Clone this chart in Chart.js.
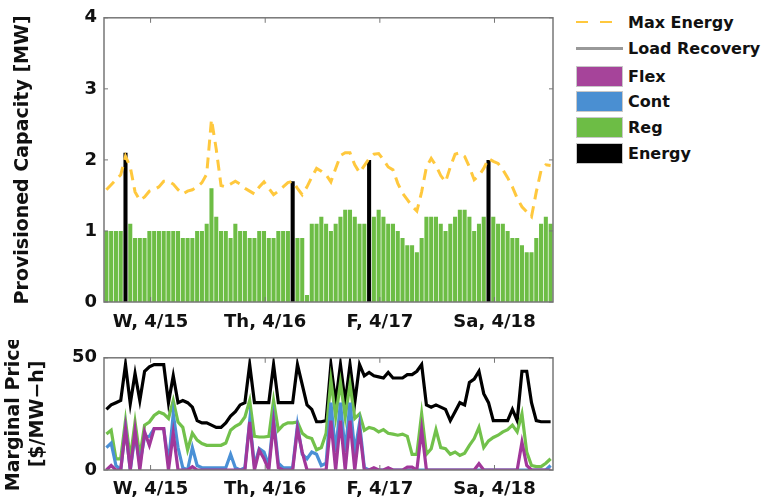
<!DOCTYPE html>
<html>
<head>
<meta charset="utf-8">
<script src="https://cdn.jsdelivr.net/npm/chart.js@4.4.1/dist/chart.umd.min.js"></script>
<style>
  body { margin: 0; background: #fff; }
  #wrap { position: relative; width: 761px; height: 504px; font-family: "DejaVu Sans", sans-serif; }
  #top { position: absolute; left: 0; top: 0; }
  #bot { position: absolute; left: 0; top: 340px; }
  .row { position: absolute; left: 576px; height: 22px; display: flex; align-items: center;
         font-weight: bold; font-size: 16px; color: #111; white-space: nowrap; }
  .sw { width: 47px; margin-right: 5px; box-sizing: border-box; }
  .box { height: 21px; border: 1px solid #c8c8c8; }
</style>
</head>
<body>
<div id="wrap">
  <canvas id="top" width="570" height="340"></canvas>
  <canvas id="bot" width="570" height="164"></canvas>

  <div class="row" style="top:11px"><span class="sw" style="height:2px;background:repeating-linear-gradient(to right,#ffc83d 0 12px,transparent 12px 24px)"></span>Max Energy</div>
  <div class="row" style="top:37px"><span class="sw" style="height:3px;background:#999"></span>Load Recovery</div>
  <div class="row" style="top:65px"><span class="sw box" style="background:#a6449a"></span>Flex</div>
  <div class="row" style="top:90px"><span class="sw box" style="background:#4a8fd2"></span>Cont</div>
  <div class="row" style="top:116px"><span class="sw box" style="background:#6dbd45"></span>Reg</div>
  <div class="row" style="top:142px"><span class="sw box" style="background:#000"></span>Energy</div>
</div>

<script>
// ── data: one value per hour, 94 hours ──
const dayTicks = [9.75, 33.75, 57.75, 81.75];
const dayLabels = ['W, 4/15', 'Th, 4/16', 'F, 4/17', 'Sa, 4/18'];

// provisioned capacity [MW]
const regMW = [
  1.0, 1.0, 1.0, 1.0, null, 1.1, 0.9, 0.9, 0.9, 1.0,
  1.0, 1.0, 1.0, 1.0, 1.0, 1.0, 0.9, 0.9, 0.9, 1.0,
  1.0, 1.1, 1.6, 1.2, 1.0, 1.0, 0.9, 1.1, 1.0, 1.0,
  0.9, 0.9, 1.0, 1.0, 0.9, 0.9, 1.0, 1.0, 1.0, null,
  0.9, 0.9, 0.1, 1.1, 1.1, 1.2, 1.1, 1.0, 1.1, 1.2,
  1.3, 1.3, 1.2, 1.1, 1.1, null, 1.2, 1.3, 1.2, 1.1,
  1.1, 1.0, 0.9, 0.8, 0.8, 0.7, 0.9, 1.2, 1.2, 1.2,
  1.1, 1.0, 1.1, 1.2, 1.3, 1.3, 1.2, 1.0, 1.1, 1.2,
  null, 1.2, 1.1, 1.1, 1.0, 0.9, 0.9, 0.8, 0.7, 0.7,
  0.9, 1.1, 1.2, 1.1
];
const energyHours = [4, 39, 55, 80];
const energyMW = [2.1, 1.7, 2.0, 2.0];
const maxEnergy = [
  1.58, 1.65, 1.72, 1.79, 2.05, 1.90, 1.55, 1.43, 1.48, 1.56,
  1.58, 1.62, 1.70, 1.70, 1.66, 1.58, 1.52, 1.56, 1.58, 1.62,
  1.68, 1.80, 2.57, 2.15, 1.64, 1.62, 1.66, 1.70, 1.66, 1.60,
  1.56, 1.52, 1.62, 1.69, 1.60, 1.51, 1.56, 1.62, 1.68, 1.70,
  1.60, 1.51, 1.62, 1.76, 1.88, 1.84, 1.79, 1.69, 1.88, 2.06,
  2.10, 2.10, 1.93, 1.82, 1.92, 2.02, 2.08, 2.09, 2.00, 1.90,
  1.86, 1.67, 1.53, 1.44, 1.35, 1.28, 1.55, 1.90, 2.02, 1.92,
  1.78, 1.69, 1.90, 2.08, 2.10, 2.05, 1.90, 1.72, 1.78, 1.88,
  2.02, 1.98, 1.95, 1.86, 1.75, 1.62, 1.46, 1.34, 1.27, 1.20,
  1.55, 1.85, 1.93, 1.92
];

// marginal price [$/MW-h]
const energyPrice = [
  27, 29, 30, 31, 47, 29.5, 43, 31, 44, 46,
  47, 47, 47, 30, 42, 30, 31, 30, 28, 22,
  21, 21, 20, 19, 19, 21, 24, 26, 29, 30,
  47, 30, 30, 30, 30, 47, 30, 30, 30, 30,
  47, 38, 29, 27, 21.5, 21.5, 22, 47, 30, 47,
  30, 47, 30, 47, 42, 43.5, 42, 41.5, 41, 43.5,
  41, 41, 41, 42.5, 42.5, 44, 47, 29, 28, 29,
  28, 27, 22, 26, 30, 29, 39, 40.5, 44, 34,
  30, 22, 22, 22, 22, 27, 22, 44, 44, 30,
  22, 21.5, 21.5, 21.5
];
const regPrice = [
  16, 17.7, 5, 5, 22, 5, 21.4, 6, 20, 21.4,
  24.3, 25.8, 25, 23, 31, 21.4, 19, 9, 16.4, 13.3,
  11.8, 11, 11, 11, 11, 12, 17.7, 19.5, 20.6, 23.6,
  31, 15, 14.7, 14.7, 15, 31, 17.7, 20, 21, 21,
  21.4, 16.4, 14.7, 14, 9, 10, 16.4, 40, 23.6, 39,
  23.6, 38.3, 23, 25, 17.7, 19, 18.4, 17, 18, 16.4,
  16, 15.5, 16, 15, 7, 7, 25, 7, 9.5, 18,
  10, 9.5, 7, 8, 6.5, 7.5, 11, 14, 19, 10,
  13, 14.5, 15.5, 17, 18, 20, 17, 25, 8, 2,
  1.5, 1.5, 3, 5
];
const contPrice = [
  10, 12, 2, 0, 18.6, 0, 15.5, 3, 14.7, 15,
  18.5, 18.5, 18.5, 3, 25, 10, 1, 0, 10, 2,
  1, 1, 1, 1, 1, 1, 7, 1, 0, 1,
  22, 2, 9.5, 8, 2, 23, 3, 1, 1, 1,
  20, 7, 5, 8, 7, 2, 3, 30, 8, 30,
  8, 30, 8, 21, 1, 0, 0, 0, 0, 0,
  0, 0, 0, 0, 0, 0, 0, 0, 0, 0,
  0, 0, 0, 0, 0, 0, 0, 0, 0, 0,
  0, 0, 0, 0, 0, 0, 0, 0, 0, 0,
  0, 0, 0, 2
];
const flexPrice = [
  0, 2, 0, 0, 18.4, 0, 17.7, 0, 17, 11,
  18.4, 18.4, 18.4, 0, 16.4, 0, 0, 0, 1.5, 0,
  0, 0, 0, 0, 0, 0, 0, 0, 0, 0,
  21.4, 0, 8.8, 5, 0, 21, 1, 0, 0, 0,
  18.4, 8, 0, 0, 0, 0, 0, 22, 0, 22,
  0, 22, 0, 18, 0, 0, 1, 0, 0, 1,
  0, 0, 0, 1.3, 1.3, 0, 18, 0, 0, 0,
  0, 0, 0, 0, 0, 0, 0, 0, 2.8, 0,
  0, 0, 0, 0, 0, 0, 0, 12.4, 2, 0,
  0, 0, 0, 0
];

// ── helpers ──
const pts = arr => arr.map((v, k) => ({ x: k + 0.5, y: v })).filter(p => p.y !== null);
const FONT = 'DejaVu Sans';
Chart.defaults.font.family = FONT;
Chart.defaults.font.weight = 'bold';
Chart.defaults.color = '#111';

// box around the plot with inward tick marks
const frame = {
  id: 'frame',
  afterDatasetsDraw(chart) {
    const { ctx, chartArea: a, scales: { x, y } } = chart;
    ctx.save();
    ctx.strokeStyle = '#777';
    ctx.lineWidth = 1.5;
    ctx.strokeRect(a.left, a.top, a.right - a.left, a.bottom - a.top);
    ctx.lineWidth = 1;
    ctx.beginPath();
    x.ticks.forEach(t => {
      const px = x.getPixelForValue(t.value);
      ctx.moveTo(px, a.top); ctx.lineTo(px, a.top + 5);
      ctx.moveTo(px, a.bottom); ctx.lineTo(px, a.bottom - 5);
    });
    y.ticks.forEach(t => {
      const py = y.getPixelForValue(t.value);
      ctx.moveTo(a.left, py); ctx.lineTo(a.left + 4, py);
      ctx.moveTo(a.right, py); ctx.lineTo(a.right - 4, py);
    });
    ctx.stroke();
    ctx.restore();
  }
};

function xAxis(labelPad, height) {
  return {
    type: 'linear', min: 0, max: 94, offset: false,
    grid: { display: false, drawTicks: false }, border: { display: false },
    afterBuildTicks: s => { s.ticks = dayTicks.map(v => ({ value: v })); },
    afterFit: s => { s.height = height; },
    ticks: { autoSkip: false, maxRotation: 0, padding: labelPad, font: { size: 18 },
             callback: (v, i) => dayLabels[i] }
  };
}

// ── top: provisioned capacity ──
new Chart(document.getElementById('top'), {
  type: 'bar',
  data: {
    datasets: [
      { type: 'line', label: 'Max Energy', data: pts(maxEnergy), borderColor: '#ffc83d',
        borderWidth: 3, borderDash: [11, 7], pointRadius: 0, tension: 0, fill: false },
      { label: 'Energy', data: energyHours.map((h, i) => ({ x: h + 0.5, y: energyMW[i] })),
        backgroundColor: '#000', grouped: false, barPercentage: 0.85, categoryPercentage: 1 },
      { label: 'Reg', data: pts(regMW), backgroundColor: '#6dbd45',
        grouped: false, barPercentage: 0.85, categoryPercentage: 1 }
    ]
  },
  options: {
    responsive: false, animation: false,
    layout: { padding: { left: 0, right: 17, top: 14, bottom: 0 } },
    plugins: { legend: { display: false }, tooltip: { enabled: false } },
    scales: {
      x: xAxis(10, 38),
      y: {
        min: 0, max: 4,
        grid: { display: false, drawTicks: false }, border: { display: false },
        afterFit: s => { s.width = 104; },
        ticks: { stepSize: 1, padding: 7, font: { size: 18 } },
        title: { display: true, text: 'Provisioned Capacity [MW]', font: { size: 19, weight: 'bold' },
                 padding: { top: 12, bottom: 0 } }
      }
    }
  },
  plugins: [frame]
});

// ── bottom: marginal price ──
const priceLine = (label, data, color) => ({
  label, data: pts(data), borderColor: color, borderWidth: 3.2,
  pointRadius: 0, tension: 0, fill: false
});

new Chart(document.getElementById('bot'), {
  type: 'line',
  data: {
    datasets: [
      priceLine('Flex', flexPrice, '#a1379a'),
      priceLine('Cont', contPrice, '#4a90d6'),
      priceLine('Reg', regPrice, '#72c14b'),
      priceLine('Energy', energyPrice, '#000')
    ]
  },
  options: {
    responsive: false, animation: false,
    layout: { padding: { left: 0, right: 17, top: 17, bottom: 0 } },
    plugins: { legend: { display: false }, tooltip: { enabled: false } },
    scales: {
      x: xAxis(9, 34),
      y: {
        min: 0, max: 50,
        grid: { display: false, drawTicks: false }, border: { display: false },
        afterFit: s => { s.width = 104; },
        ticks: { stepSize: 50, padding: 7, font: { size: 18 } },
        title: { display: true, text: ['Marginal Price', '[$/MW\u2212h]'],
                 font: { size: 19, weight: 'bold', lineHeight: 1.26 },
                 padding: { top: 2, bottom: 0 } }
      }
    }
  },
  plugins: [frame]
});
</script>
</body>
</html>
